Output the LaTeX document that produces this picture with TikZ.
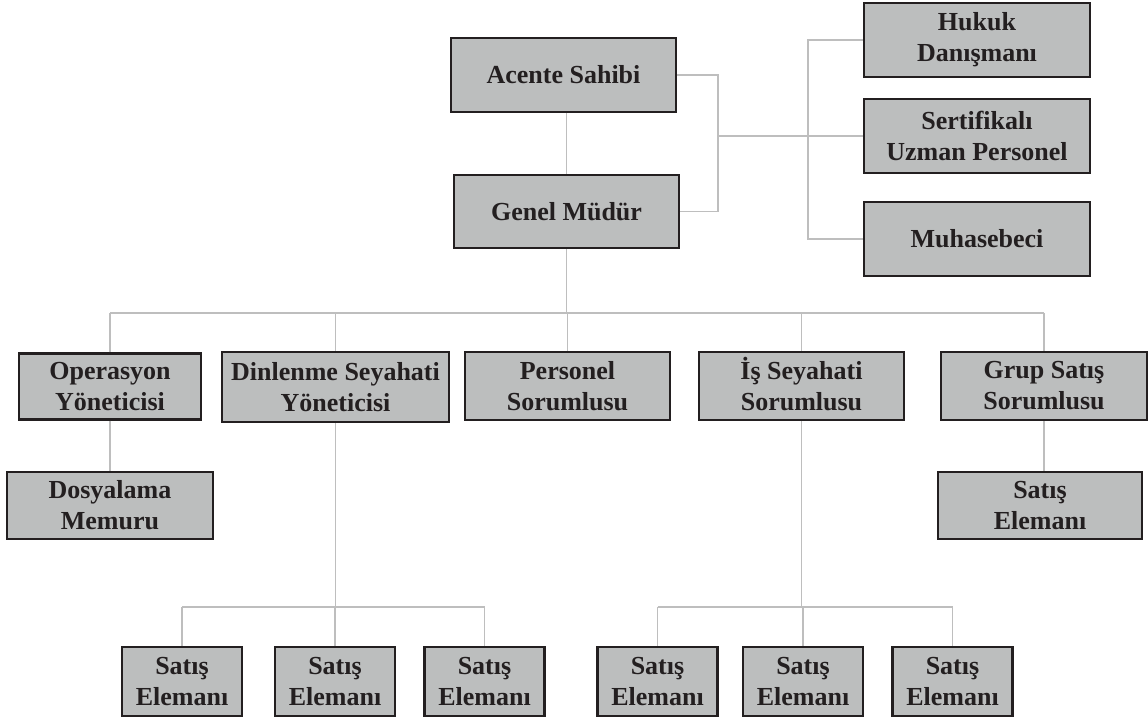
\documentclass[tikz,border=0pt]{standalone}
\usepackage{fontspec}
\setmainfont{Liberation Serif}
\usepackage{tikz}
\usetikzlibrary{positioning}
\usetikzlibrary{calc}

\definecolor{boxfill}{RGB}{188,190,190}
\definecolor{boxline}{RGB}{35,31,32}
\definecolor{linkgray}{RGB}{190,190,190}

\tikzset{
  unit/.style={draw=boxline, fill=boxfill, line width=2.2pt, rectangle, align=center, inner sep=0pt,
    text=boxline, font=\bfseries\fontsize{26}{31}\selectfont},
  link/.style={draw=linkgray, line width=1.8pt}
}

\begin{document}
\begin{tikzpicture}[x=1pt, y=-1pt]
 \useasboundingbox (0,0) rectangle (1148,719);

 % top
 \node[unit, minimum width=225pt, minimum height=74pt] (acente) at (563.5,75) {Acente Sahibi};
 \node[unit, minimum width=225pt, minimum height=73pt] (genel) at (566.5,211.5) {Genel Müdür};

 \node[unit, minimum width=226pt, minimum height=74pt] (hukuk) at (977,40) {Hukuk\\Danışmanı};
 \node[unit, minimum width=226pt, minimum height=74pt] (sertifika) at (977,136) {Sertifikalı\\Uzman Personel};
 \node[unit, minimum width=226pt, minimum height=74pt] (muhasebe) at (977,239) {Muhasebeci};

 %level 2
 \node[unit, minimum width=182pt, minimum height=66pt] (operasyon) at (110,386.5) {Operasyon\\Yöneticisi};
 \node[unit, minimum width=227pt, minimum height=70pt] (dinlenme) at (335.5,387) {Dinlenme Seyahati\\Yöneticisi};
 \node[unit, minimum width=205pt, minimum height=68pt] (personel) at (567.5,386) {Personel\\Sorumlusu};
 \node[unit, minimum width=205pt, minimum height=68pt] (is) at (801.5,386) {\raisebox{0pt}[0.7em]{İş Seyahati}\\Sorumlusu};
 \node[unit, minimum width=206pt, minimum height=68pt] (grup) at (1044,386) {Grup Satış\\Sorumlusu};

 %level 3
 \node[unit, minimum width=206pt, minimum height=67pt] (dosyalama) at (110,505.5) {Dosyalama\\Memuru};
 \node[unit, minimum width=204pt, minimum height=67pt] (grupsatis) at (1040,505.5) {Satış\\Elemanı};

 %level 4
 \foreach \x/\n in {182/sa1, 335/sa2, 484.5/sa3, 657.5/sb1, 803/sb2, 952.5/sb3} {
   \node[unit, minimum width=120pt, minimum height=69pt] (\n) at (\x,681.5) {Satış\\Elemanı};
 }

 % lines
 \coordinate (lbrk) at (718,136);
 \coordinate (rbrk) at (808,136);
 \coordinate (bus) at (0,313);
 \coordinate (subbus) at (0,607);

 \draw[link] (genel.north) -- (genel.north |- acente.south);
 \draw[link] (acente.east) -| (lbrk);
 \draw[link] (genel.east) -| (lbrk);
 \draw[link] (lbrk) -- (sertifika.west);
 \draw[link] (hukuk.west) -| (rbrk);
 \draw[link] (muhasebe.west) -| (rbrk);

 \draw[link] (genel.south) -- (genel.south |- bus);
 \draw[link] (operasyon.north |- bus) -- (grup.north |- bus);
 \foreach \n in {operasyon, dinlenme, personel, is, grup}
   \draw[link] (\n.north) -- (\n.north |- bus);

 \draw[link] (operasyon.south) -- (dosyalama.north);
 \draw[link] (grup.south) -- (grup.south |- grupsatis.north);

 \draw[link] (dinlenme.south) -- (dinlenme.south |- subbus);
 \draw[link] (is.south) -- (is.south |- subbus);
 \draw[link] (sa1.north |- subbus) -- (sa3.north |- subbus);
 \draw[link] (sb1.north |- subbus) -- (sb3.north |- subbus);
 \foreach \n in {sa1, sa2, sa3, sb1, sb2, sb3}
   \draw[link] (\n.north) -- (\n.north |- subbus);

\end{tikzpicture}
\end{document}
